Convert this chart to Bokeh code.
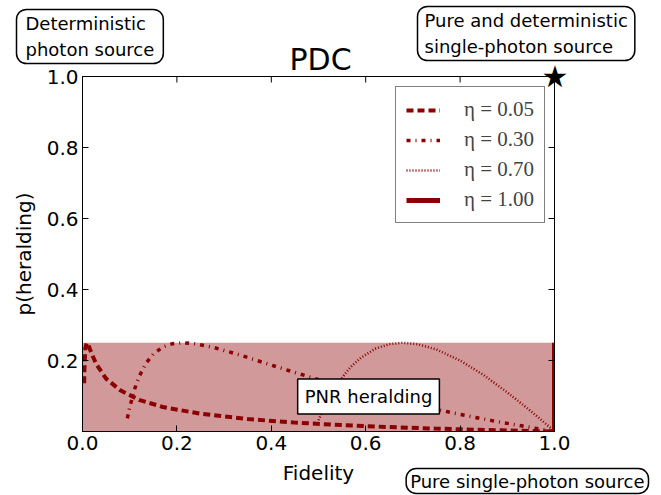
from bokeh.plotting import figure
from bokeh.models import (Label, Legend, LegendItem, LinearAxis, FixedTicker,
                          PrintfTickFormatter, Range1d, Title)
from bokeh.embed import file_html
from bokeh.resources import INLINE

# ---- data ----
F_005 = [0.0035, 0.004, 0.006, 0.009, 0.012, 0.016, 0.02, 0.03, 0.05, 0.08, 0.12,
         0.17, 0.25, 0.35, 0.45, 0.55, 0.65, 0.75, 0.85, 0.92, 0.97, 1.0]
P_005 = [0.136, 0.172, 0.234, 0.250, 0.245, 0.231, 0.217, 0.188, 0.149, 0.116, 0.089,
         0.069, 0.050, 0.035, 0.025, 0.018, 0.0125, 0.0081, 0.0044, 0.0022, 0.0008, 0.0]

F_030 = [0.095, 0.10, 0.11, 0.12, 0.135, 0.15, 0.17, 0.19, 0.213, 0.24, 0.28, 0.33,
         0.40, 0.48, 0.56, 0.64, 0.72, 0.80, 0.87, 0.93, 0.97, 1.0]
P_030 = [0.037, 0.068, 0.118, 0.155, 0.193, 0.218, 0.238, 0.247, 0.250, 0.247, 0.236, 0.217,
         0.187, 0.154, 0.123, 0.096, 0.071, 0.048, 0.030, 0.016, 0.0065, 0.0]

F_070 = [0.50, 0.51, 0.52, 0.53, 0.54, 0.56, 0.57, 0.59, 0.62, 0.65, 0.678, 0.71, 0.75,
         0.80, 0.85, 0.90, 0.94, 0.97, 0.99, 1.0]
P_070 = [0.032, 0.062, 0.088, 0.112, 0.133, 0.169, 0.184, 0.208, 0.233, 0.246, 0.250, 0.246, 0.231,
         0.200, 0.159, 0.110, 0.068, 0.035, 0.012, 0.0]

F_100 = [1.0, 1.0]
P_100 = [0.0, 0.25]

ETA_LABELS = ["η = 0.05", "η = 0.30", "η = 0.70", "η = 1.00"]
PNR_X = [0.0, 1.0]
PNR_P = [0.0, 0.25]
X_TICKS = [0.0, 0.2, 0.4, 0.6, 0.8, 1.0]
Y_TICKS = [0.2, 0.4, 0.6, 0.8, 1.0]

RED = "#8b0000"
FONT = "DejaVu Sans"

FW, FH = 472, 355          # plot box size in px
LEFT, TOP = 82, 76         # plot box offset in the page
W, H = 661, 495

p = figure(frame_width=FW, frame_height=FH, output_backend="svg", toolbar_location=None,
           x_range=Range1d(0, 1), y_range=Range1d(0, 1), title=None,
           min_border_left=LEFT, min_border_right=W - LEFT - FW, min_border_top=TOP,
           min_border_bottom=H - TOP - FH)
p.background_fill_color = "white"
p.border_fill_color = "white"
p.outline_line_color = "black"
p.outline_line_width = 1
p.xgrid.visible = False
p.ygrid.visible = False

# shaded PNR region
p.quad(left=PNR_X[0], right=PNR_X[1], bottom=PNR_P[0], top=PNR_P[1],
       fill_color=RED, fill_alpha=0.4, line_color=None)

r1 = p.line(F_005, P_005, line_color=RED, line_width=4, line_dash="7 4")
r2 = p.line(F_030, P_030, line_color=RED, line_width=3.5, line_dash="4 5 1 5")
r3 = p.line(F_070, P_070, line_color=RED, line_width=2.5, line_dash="1 2")
r4 = p.line(F_100, P_100, line_color=RED, line_width=5)

# inward ticks along the top edge
p.segment(x0=X_TICKS, y0=[1.0] * len(X_TICKS), x1=X_TICKS,
          y1=[1.0 - 6 / FH] * len(X_TICKS), line_color="black", line_width=1)


def style_axis(ax, ticks, labels=True):
    ax.ticker = FixedTicker(ticks=ticks)
    ax.formatter = PrintfTickFormatter(format="%.1f")
    ax.major_tick_in = 6
    ax.major_tick_out = 0
    ax.minor_tick_in = 0
    ax.minor_tick_out = 0
    ax.axis_line_color = "black"
    ax.major_tick_line_color = "black"
    ax.major_label_text_font = FONT
    ax.major_label_text_color = "black"
    ax.major_label_text_font_size = "20px"
    if labels:
        ax.axis_label_text_font = FONT
        ax.axis_label_text_font_size = "20px"
        ax.axis_label_text_font_style = "normal"
        ax.axis_label_text_color = "black"
    else:
        ax.major_label_overrides = {t: "" for t in ticks}
        ax.major_label_standoff = 0

style_axis(p.xaxis[0], X_TICKS)
style_axis(p.yaxis[0], Y_TICKS)
p.xaxis[0].axis_label = "Fidelity"
p.yaxis[0].axis_label = "p(heralding)"
p.xaxis[0].major_label_standoff = 4
p.xaxis[0].axis_label_standoff = 8
p.yaxis[0].major_label_standoff = 4
p.yaxis[0].axis_label_standoff = 8

right_ax = LinearAxis()
style_axis(right_ax, Y_TICKS, labels=False)
p.add_layout(right_ax, "right")

# legend
legend = Legend(items=[LegendItem(label=ETA_LABELS[0], renderers=[r1]),
                       LegendItem(label=ETA_LABELS[1], renderers=[r2]),
                       LegendItem(label=ETA_LABELS[2], renderers=[r3]),
                       LegendItem(label=ETA_LABELS[3], renderers=[r4])],
                location=(313, 208))
legend.border_line_color = "black"
legend.border_line_width = 1
legend.background_fill_color = "white"
legend.background_fill_alpha = 1
legend.label_text_font = "Liberation Serif"
legend.label_text_font_size = "21px"
legend.glyph_width = 34
legend.glyph_height = 20
legend.label_height = 20
legend.label_standoff = 24
legend.spacing = 5
legend.padding = 10
legend.margin = 0
p.add_layout(legend)

# PNR heralding box inside the plot box
try:
    pnr = Label(x=0.606, y=0.0986, text="PNR heralding", text_font=FONT, text_font_size="18px",
                text_align="center", text_baseline="middle", text_color="black",
                border_line_color="black", border_line_width=1.5,
                background_fill_color="white", background_fill_alpha=1, padding=7)
except Exception:
    pnr = Label(x=0.606, y=0.0986, text="PNR heralding", text_font=FONT, text_font_size="18px",
                text_align="center", text_baseline="middle", text_color="black",
                border_line_color="black", background_fill_color="white")
p.add_layout(pnr)


def side_text(text, size, align, offset, standoff, valign, boxed=True, pad=None, radius=10):
    kw = dict(text=text, align=align, offset=offset, standoff=standoff,
              vertical_align=valign, text_font=FONT, text_font_size=size,
              text_font_style="normal", text_color="black", text_line_height=1.2)
    if boxed:
        kw.update(border_line_color="black", border_line_width=1.5,
                  background_fill_color="white", background_fill_alpha=1)
        try:
            return Title(padding=pad if pad is not None else dict(x=9, y=4),
                         border_radius=radius, **kw)
        except Exception:
            pass
    return Title(**kw)

# texts around the plot box (title panels are not clipped to the plot box)
p.add_layout(side_text("★", "30px", "right", -14, -37, "middle", boxed=False), "above")
p.add_layout(side_text("PDC", "30px", "left", 207, 0, "bottom", boxed=False), "above")
p.add_layout(side_text("Deterministic\nphoton source", "18px", "left", -66, -50, "middle"), "above")
p.add_layout(side_text("Pure and deterministic\nsingle-photon source", "18px", "left", 335, -56,
                       "middle", pad=dict(x=7, y=4)), "above")
p.add_layout(side_text("Pure single-photon source", "18px", "right", -94, -38, "top",
                       pad=dict(x=4, y=2)), "below")

open("out.html", "w").write(file_html(p, INLINE))
